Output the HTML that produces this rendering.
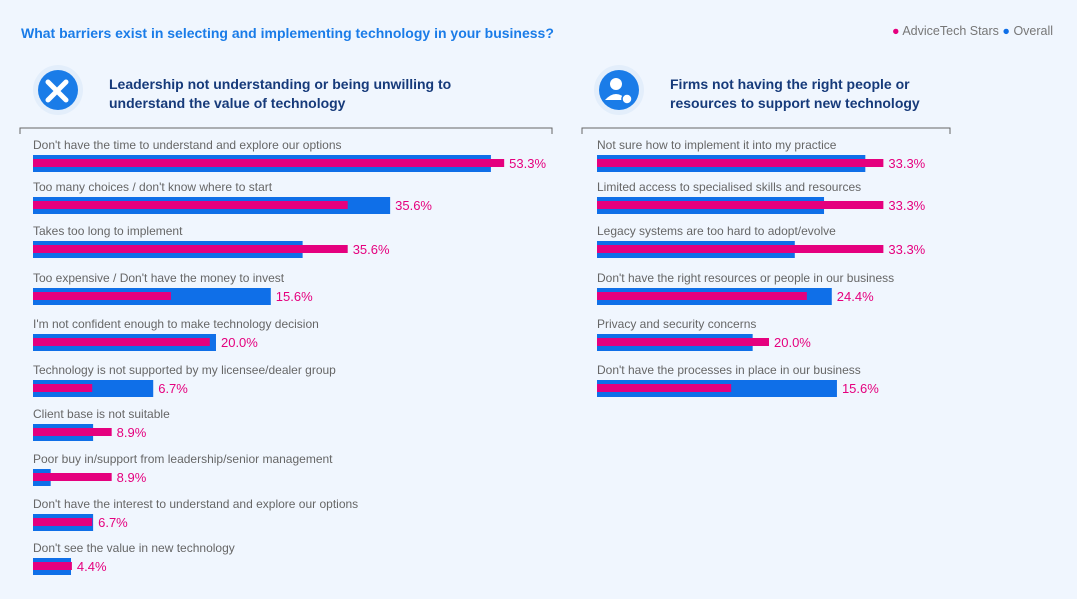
<!DOCTYPE html>
<html><head><meta charset="utf-8"><style>
body{margin:0;background:#f0f6fe;font-family:"Liberation Sans",sans-serif;}
#root{position:relative;width:1077px;height:599px;overflow:hidden;background:#f0f6fe;}
.t{position:absolute;white-space:nowrap;}
</style></head><body>
<div id="root">
<div class="t" style="left:21px;top:25px;font-size:14px;font-weight:bold;color:#1a7ce8;">What barriers exist in selecting and implementing technology in your business?</div>
<div class="t" style="left:892px;top:24px;font-size:12.5px;color:#777;">
<span><span style="color:#e5007e">●</span> AdviceTech Stars</span>
<span><span style="color:#0f6fe8">●</span> Overall</span></div>
<svg id="svg" width="1077" height="599" style="position:absolute;left:0;top:0">
<circle cx="58" cy="90" r="25" fill="#e3eefb"/>
<circle cx="58" cy="90" r="20" fill="#1a7ce8"/>
<path d="M48 82 L66 100 M66 82 L48 100" stroke="#fff" stroke-width="5" stroke-linecap="round" fill="none"/>
<circle cx="619" cy="90" r="25" fill="#e3eefb"/>
<circle cx="619" cy="90" r="20" fill="#1a7ce8"/>
<circle cx="616" cy="84" r="6" fill="#fff"/><path d="M605 100 Q616 88 627 100 Z" fill="#fff"/>
<circle cx="627" cy="99" r="5" fill="#fff" stroke="#1a7ce8" stroke-width="1.5"/>
<path d="M20 134 V128 H552 V134" stroke="#666" fill="none"/>
<path d="M582 134 V128 H950 V134" stroke="#666" fill="none"/>
</svg>
<div class="t" style="left:109px;top:75px;font-size:14px;font-weight:bold;color:#163a7a;line-height:19px;">Leadership not understanding or being unwilling to<br>understand the value of technology</div>
<div class="t" style="left:670px;top:75px;font-size:14px;font-weight:bold;color:#163a7a;line-height:19px;">Firms not having the right people or<br>resources to support new technology</div>
</div>
<script>
const leftLabels=["Don't have the time to understand and explore our options","Too many choices / don't know where to start","Takes too long to implement","Too expensive / Don't have the money to invest","I'm not confident enough to make technology decision","Technology is not supported by my licensee/dealer group","Client base is not suitable","Poor buy in/support from leadership/senior management","Don't have the interest to understand and explore our options","Don't see the value in new technology"];
const leftStars=[53.3,35.6,35.6,15.6,20.0,6.7,8.9,8.9,6.7,4.4];
const leftOverall=[51.8,40.4,30.5,26.9,20.7,13.6,6.8,2.0,6.8,4.3];
const rightLabels=["Not sure how to implement it into my practice","Limited access to specialised skills and resources","Legacy systems are too hard to adopt/evolve","Don't have the right resources or people in our business","Privacy and security concerns","Don't have the processes in place in our business"];
const rightStars=[33.3,33.3,33.3,24.4,20.0,15.6];
const rightOverall=[31.2,26.4,23.0,27.3,18.1,27.9];
const NS="http://www.w3.org/2000/svg";
const svg=document.getElementById('svg');
const root=document.getElementById('root');
const rowY=[144,186,230,277,323,369,413,458,503,547];
function panel(side,x0,scale,labels,stars,overall){
  const xs=v=>x0+v*scale;
  labels.forEach((lab,i)=>{
    const y=rowY[i];
    const d=document.createElement('div');
    d.className='t';d.textContent=lab;
    d.style.cssText=`left:${x0}px;top:${y-6}px;font-size:12px;color:#666;`;
    
    
    root.appendChild(d);
    const b=document.createElementNS(NS,'rect');
    b.setAttribute('x',x0);b.setAttribute('y',y+11);b.setAttribute('width',xs(overall[i])-x0);b.setAttribute('height',17);b.setAttribute('fill','#0f6fe8');
    
    
    svg.appendChild(b);
    const p=document.createElementNS(NS,'rect');
    p.setAttribute('x',x0);p.setAttribute('y',y+15);p.setAttribute('width',xs(stars[i])-x0);p.setAttribute('height',8);p.setAttribute('fill','#e5007e');
    
    
    svg.appendChild(p);
    const v=document.createElement('div');
    v.className='t';v.textContent=stars[i].toFixed(1)+'%';
    v.style.cssText=`left:${Math.max(xs(stars[i]),xs(overall[i]))+5}px;top:${y+12}px;font-size:13px;color:#e5007e;`;
    
    
    root.appendChild(v);
  });
}
panel('left',33,8.84,leftLabels,leftStars,leftOverall);
panel('right',597,8.6,rightLabels,rightStars,rightOverall);
</script>
</body></html>
